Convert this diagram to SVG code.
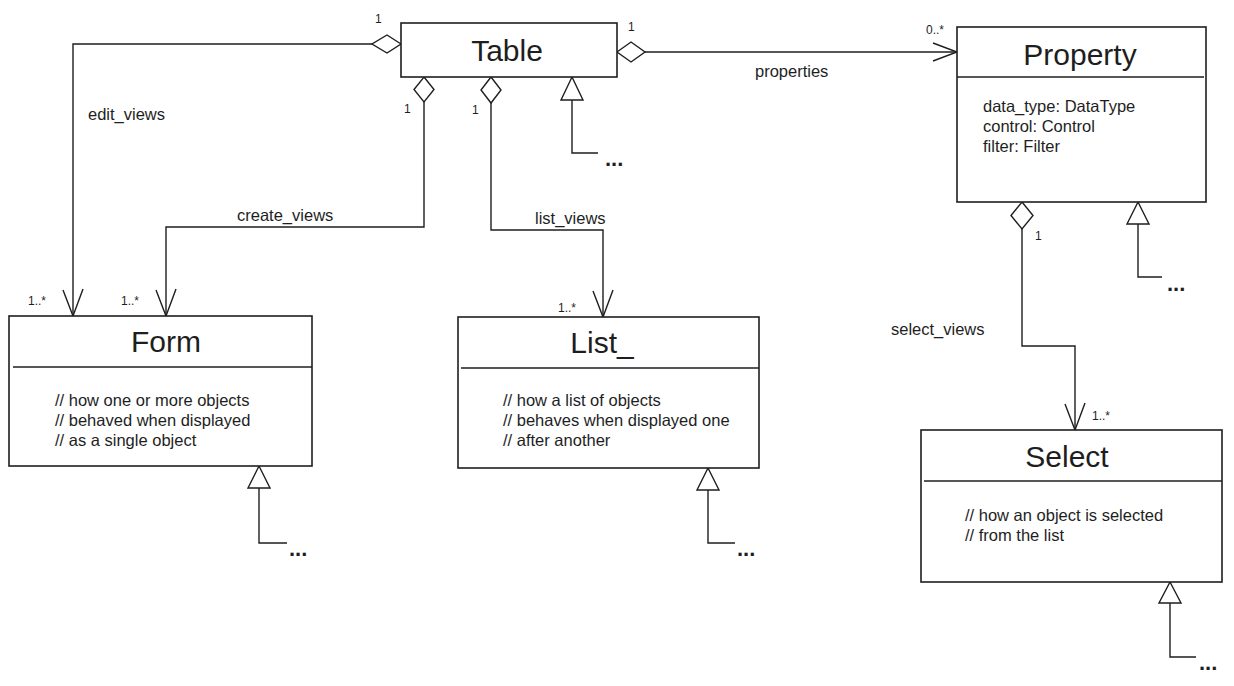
<svg xmlns="http://www.w3.org/2000/svg" width="1234" height="686" viewBox="0 0 1234 686">
<style>
  .box { fill: #ffffff; stroke: #1e1e1e; stroke-width: 1.6; }
  .sep { stroke: #1e1e1e; stroke-width: 1.6; fill: none; }
  .line { fill: none; stroke: #1e1e1e; stroke-width: 1.4; }
  .dia { fill: #ffffff; stroke: #1e1e1e; stroke-width: 1.4; }
  .tri { fill: #ffffff; stroke: #1e1e1e; stroke-width: 1.4; }
  .title { font-family: "Liberation Sans", "DejaVu Sans", sans-serif; font-size: 30px; fill: #1e1e1e; text-anchor: middle; }
  .body { font-family: "Liberation Sans", "DejaVu Sans", sans-serif; font-size: 16.5px; fill: #1e1e1e; }
  .lbl { font-family: "Liberation Sans", "DejaVu Sans", sans-serif; font-size: 16.5px; fill: #1e1e1e; }
  .mult { font-family: "Liberation Sans", "DejaVu Sans", sans-serif; font-size: 12px; fill: #1e1e1e; }
  .dots { font-family: "Liberation Sans", "DejaVu Sans", sans-serif; font-size: 22px; font-weight: bold; fill: #1e1e1e; }
</style>
<rect width="1234" height="686" fill="#ffffff"/>

<g id="connectors">
  <!-- edit_views -->
  <path class="line" d="M372,44 H73 V316"/>
  <polygon class="dia" points="401,44 387,35 372,44 387,53"/>
  <path class="line" d="M63,290 L73,316 L83,289"/>
  <text class="lbl" x="88" y="120">edit_views</text>
  <text class="mult" x="375" y="23">1</text>
  <text class="mult" x="28" y="305">1..*</text>

  <!-- create_views -->
  <path class="line" d="M424,102 V227 H166 V316"/>
  <polygon class="dia" points="424,77 434,89.5 424,102 414,89.5"/>
  <path class="line" d="M156,290 L166,316 L176,289"/>
  <text class="lbl" x="237" y="221">create_views</text>
  <text class="mult" x="404" y="113">1</text>
  <text class="mult" x="121" y="305">1..*</text>

  <!-- list_views -->
  <path class="line" d="M491,103 V230 H603 V317"/>
  <polygon class="dia" points="491,77 501,90 491,103 481,90"/>
  <path class="line" d="M593,291 L603,317 L613,290"/>
  <text class="lbl" x="535" y="224">list_views</text>
  <text class="mult" x="472" y="114">1</text>
  <text class="mult" x="558" y="312">1..*</text>

  <!-- properties -->
  <path class="line" d="M645,52 H957"/>
  <polygon class="dia" points="617,52 631,42 645,52 631,62"/>
  <path class="line" d="M933,43 L957,52 L933,61"/>
  <text class="lbl" x="755" y="77">properties</text>
  <text class="mult" x="628" y="31">1</text>
  <text class="mult" x="926" y="34">0..*</text>

  <!-- select_views -->
  <path class="line" d="M1022,229 V346 H1075 V430"/>
  <polygon class="dia" points="1022,202 1033,215.5 1022,229 1011,215.5"/>
  <path class="line" d="M1065,404 L1075,430 L1085,403"/>
  <text class="lbl" x="891" y="335">select_views</text>
  <text class="mult" x="1035" y="240">1</text>
  <text class="mult" x="1092" y="420">1..*</text>

  <!-- inheritance stubs -->
  <polygon class="tri" points="572,77 583,100 561,100"/>
  <path class="line" d="M572,100 V153 H598"/>
  <text class="dots" x="605" y="166">...</text>

  <polygon class="tri" points="1138,202 1149,224 1127,224"/>
  <path class="line" d="M1138,224 V277 H1162"/>
  <text class="dots" x="1167" y="291">...</text>

  <polygon class="tri" points="259,466 270,488 248,488"/>
  <path class="line" d="M259,488 V543 H287"/>
  <text class="dots" x="289" y="556">...</text>

  <polygon class="tri" points="708,468 719,490 697,490"/>
  <path class="line" d="M708,490 V543 H735"/>
  <text class="dots" x="737" y="556">...</text>

  <polygon class="tri" points="1170,582 1181,603 1159,603"/>
  <path class="line" d="M1170,603 V657 H1196"/>
  <text class="dots" x="1199" y="670">...</text>
</g>

<g id="table">
  <rect class="box" x="401" y="23" width="216" height="54"/>
  <text class="title" x="507" y="61">Table</text>
</g>

<g id="property">
  <rect class="box" x="957" y="27" width="249" height="175"/>
  <line class="sep" x1="957" y1="77" x2="1204" y2="77"/>
  <text class="title" x="1080" y="65">Property</text>
  <text class="body" x="983" y="112">data_type: DataType</text>
  <text class="body" x="983" y="132">control: Control</text>
  <text class="body" x="983" y="152">filter: Filter</text>
</g>

<g id="form">
  <rect class="box" x="9" y="316" width="303" height="150"/>
  <line class="sep" x1="13" y1="367" x2="312" y2="367"/>
  <text class="title" x="166" y="352">Form</text>
  <text class="body" x="55" y="406">// how one or more objects</text>
  <text class="body" x="55" y="426">// behaved when displayed</text>
  <text class="body" x="55" y="446">// as a single object</text>
</g>

<g id="list">
  <rect class="box" x="458" y="317" width="301" height="151"/>
  <line class="sep" x1="461" y1="368" x2="759" y2="368"/>
  <text class="title" x="602" y="353">List_</text>
  <text class="body" x="503" y="406">// how a list of objects</text>
  <text class="body" x="503" y="426">// behaves when displayed one</text>
  <text class="body" x="503" y="446">// after another</text>
</g>

<g id="select">
  <rect class="box" x="921" y="430" width="301" height="152"/>
  <line class="sep" x1="924" y1="481" x2="1222" y2="481"/>
  <text class="title" x="1067" y="467">Select</text>
  <text class="body" x="965" y="521">// how an object is selected</text>
  <text class="body" x="965" y="541">// from the list</text>
</g>
</svg>
